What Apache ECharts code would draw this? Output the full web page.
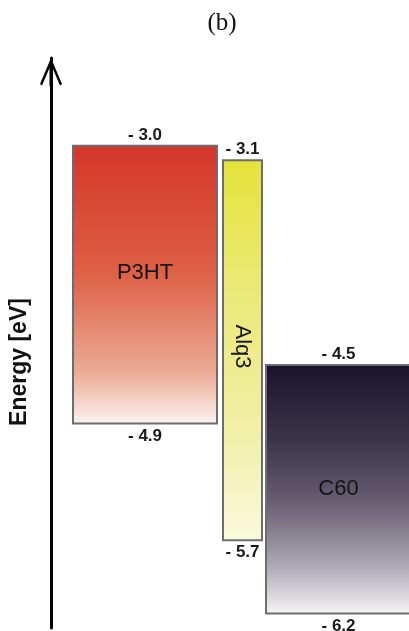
<!DOCTYPE html>
<html>
<head>
<meta charset="utf-8">
<script src="https://cdn.jsdelivr.net/npm/echarts@6/dist/echarts.min.js"></script>
<style>
  html, body { margin: 0; padding: 0; background: #ffffff; }
  #chart { width: 409px; height: 631px; }
</style>
</head>
<body>
<div id="chart"></div>
<script>
// Energy levels (eV) of the three layers
const materials = ['P3HT', 'Alq3', 'C60'];
const lumo = [-3.0, -3.1, -4.5];
const homo = [-4.9, -5.7, -6.2];

// Horizontal extent of each block (x-axis units) and where its name sits (fraction from top)
const blockSpans = [[22, 166], [172, 211], [215, 360]];
const namePos = [0.46, 0.49, 0.5];
const nameRotate = [0, -90, 0];

// Vertical gradient for each block, top to bottom
const blockColors = [
  [[0, '#d5362a'], [0.45, '#dd5f44'], [0.8, '#eaa790'], [1, '#fcf3ef']],
  [[0, '#e6e33a'], [0.35, '#ebe978'], [0.7, '#f0efa4'], [1, '#f9f9de']],
  [[0, '#19142e'], [0.3, '#3b3349'], [0.55, '#675e72'], [0.8, '#aba6b1'], [1, '#f6f5f7']]
];

const fmt = v => '- ' + Math.abs(v).toFixed(1);

const data = materials.map((m, i) => [i, lumo[i], homo[i]]);

const chart = echarts.init(document.getElementById('chart'));

chart.setOption({
  animation: false,
  title: {
    text: '(b)',
    left: 217,
    top: 6,
    textAlign: 'center',
    textStyle: { fontFamily: 'Liberation Serif', fontWeight: 'normal', fontSize: 25, color: '#111' }
  },
  grid: { left: 51, right: 0, top: 58, bottom: 3, containLabel: false, outerBoundsMode: 'none' },
  xAxis: {
    type: 'value', min: 0, max: 358,
    show: false
  },
  yAxis: {
    type: 'value', min: -6.3, max: -2.4,
    name: 'Energy [eV]',
    nameLocation: 'middle',
    nameRotate: 90,
    nameGap: 20,
    nameTextStyle: {
      fontFamily: 'Liberation Sans', fontWeight: 'bold', fontSize: 23, color: '#111',
      padding: [0, 38, 0, 0]
    },
    axisLine: {
      show: true,
      lineStyle: { color: '#000', width: 3 },
      symbol: ['none', 'path://M10,0 L21,26 L19,27.5 L11.5,10 L11.5,28 L8.5,28 L8.5,10 L1,27.5 L-1,26 Z'],
      symbolSize: [22, 28],
      symbolOffset: [0, -14]
    },
    axisTick: { show: false },
    axisLabel: { show: false },
    splitLine: { show: false }
  },
  series: [{
    type: 'custom',
    data: data,
    renderItem: function (params, api) {
      const i = api.value(0);
      const span = blockSpans[i];
      const tl = api.coord([span[0], api.value(1)]);
      const br = api.coord([span[1], api.value(2)]);
      const x = tl[0], y = tl[1], w = br[0] - tl[0], h = br[1] - tl[1];
      const cx = x + w / 2;
      const labelFont = { fontFamily: 'Liberation Sans', fontWeight: 'bold', fontSize: 17, fill: '#1a1a1a' };
      return {
        type: 'group',
        children: [
          {
            type: 'rect',
            shape: { x: x, y: y, width: w, height: h },
            style: {
              fill: new echarts.graphic.LinearGradient(0, 0, 0, 1,
                blockColors[i].map(s => ({ offset: s[0], color: s[1] }))),
              stroke: '#6d6d6d',
              lineWidth: 2
            }
          },
          {
            type: 'text',
            x: cx, y: y - 2,
            style: Object.assign({ text: fmt(api.value(1)), align: 'center', verticalAlign: 'bottom' }, labelFont)
          },
          {
            type: 'text',
            x: cx, y: y + h + 4,
            style: Object.assign({ text: fmt(api.value(2)), align: 'center', verticalAlign: 'top' }, labelFont)
          },
          {
            type: 'text',
            x: cx, y: y + h * namePos[i],
            rotation: nameRotate[i] * Math.PI / 180,
            style: {
              text: materials[i], align: 'center', verticalAlign: 'middle',
              fontFamily: 'Liberation Sans', fontSize: 22, fill: '#141414'
            }
          }
        ]
      };
    }
  }]
});
</script>
</body>
</html>
